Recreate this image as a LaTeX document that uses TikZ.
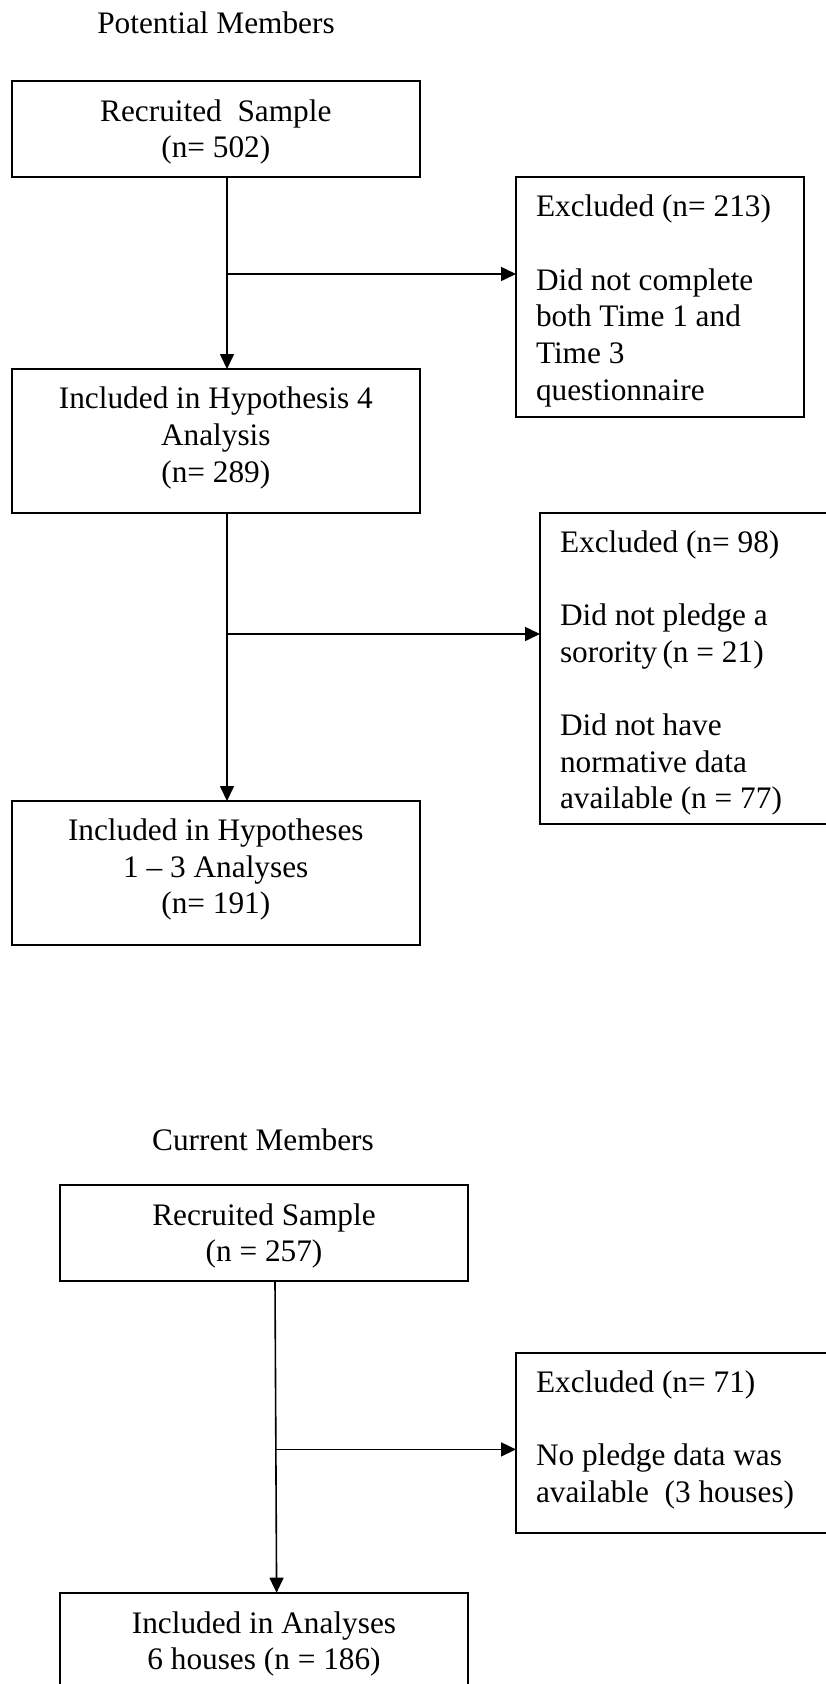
\documentclass[tikz,border=0pt]{standalone}
\usepackage{fontspec}
\setmainfont{Liberation Serif}
\usetikzlibrary{arrows.meta}
\newcommand\mytabc[1]{\begin{tabular}[t]{@{}c@{}}#1\end{tabular}}
\newcommand\mytabl[1]{\begin{tabular}[t]{@{}l@{}}#1\end{tabular}}
\begin{document}
\begin{tikzpicture}[x=1pt,y=-1pt,
  every node/.style={font=\fontsize{31.3pt}{36.7pt}\selectfont, inner sep=0pt, outer sep=0pt},
  boxnode/.style={draw, line width=1.8pt, rectangle, inner sep=0pt},
  conn/.style={line width=1.6pt},
  arr/.style={conn, -{Triangle[length=15pt,width=14pt]}},
  lbl/.style={anchor=base},
  lbll/.style={anchor=base west}]
\useasboundingbox (0,0) rectangle (826,1684);

% titles
\node[lbl] (t1) at (216,33.3) {Potential Members};
\node[lbl] (t2) at (263,1150.5) {Current Members};

% boxes
\node[boxnode, minimum width=408.4pt, minimum height=96pt] (b1) at (215.8,128.7) {};
\node[boxnode, minimum width=288pt, minimum height=240pt] (e1) at (660,296.7) {};
\node[boxnode, minimum width=408.4pt, minimum height=143.7pt] (b2) at (215.8,440.85) {};
\node[boxnode, minimum width=300pt, minimum height=311pt] (e2) at (690,668.8) {};
\node[boxnode, minimum width=408.4pt, minimum height=143.7pt] (b3) at (215.8,872.85) {};
\node[boxnode, minimum width=408pt, minimum height=96pt] (b4) at (264,1233) {};
\node[boxnode, minimum width=324pt, minimum height=180pt] (e3) at (678,1443.3) {};
\node[boxnode, minimum width=408pt, minimum height=127.3pt] (b5) at (264,1656.35) {};

% texts
\node[lbl] (b1t) at (215.8,121) {\mytabc{Recruited\ \ Sample\\(n= 502)}};
\node[lbll] (e1t) at (536,216.7) {\mytabl{Excluded (n= 213)\\ \\Did not complete\\both Time 1 and\\Time 3\\questionnaire}};
\node[lbl] (b2t) at (215.8,408.8) {\mytabc{Included in Hypothesis 4\\Analysis\\(n= 289)}};
\node[lbll] (e2t) at (560,552) {\mytabl{Excluded (n= 98)\\ \\Did not pledge a\\sorority\,(n = 21)\\ \\Did not have\\normative data\\available (n = 77)}};
\node[lbl] (b3t) at (215.8,840.5) {\mytabc{Included in Hypotheses\\1 -- 3 Analyses\\(n= 191)}};
\node[lbl] (b4t) at (264,1225) {\mytabc{Recruited Sample\\(n = 257)}};
\node[lbll] (e3t) at (536,1392) {\mytabl{Excluded (n= 71)\\ \\No pledge data was\\available\ \ (3 houses)}};
\node[lbl] (b5t) at (264,1633) {\mytabc{Included in Analyses\\6 houses (n = 186)}};

% connectors
\draw[arr] ([xshift=11.2pt]b1.south) -- ([xshift=11.2pt]b2.north);
\coordinate (j1) at (227,274);
\draw[arr] (j1) -- (j1 -| e1.west);
\draw[arr] ([xshift=11.2pt]b2.south) -- ([xshift=11.2pt]b3.north);
\coordinate (j2) at (227,634);
\draw[arr] (j2) -- (j2 -| e2.west);
\draw[arr] ([xshift=11pt]b4.south) -- ([xshift=12.6pt]b5.north);
\coordinate (j3) at (275.3,1449.4);
\draw[arr] (j3) -- (j3 -| e3.west);
\end{tikzpicture}
\end{document}
